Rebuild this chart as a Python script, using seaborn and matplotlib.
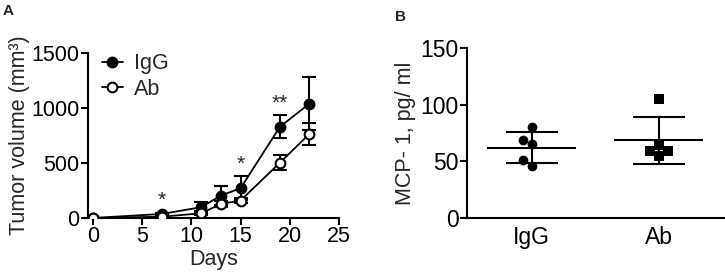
import numpy as np
import pandas as pd
import matplotlib
matplotlib.use('Agg')
import matplotlib.pyplot as plt
import seaborn as sns

# Panel A: tumor growth (mean +/- SEM)
days = [0, 7, 11, 13, 15, 19, 22]
igg_mean = [0, 37, 98, 204, 271, 829, 1040]
igg_sem = [0, 10, 51, 83, 107, 105, 240]
ab_mean = [0, 12, 43, 128, 159, 503, 765]
ab_sem = [0, 8, 20, 25, 25, 70, 97]
sig_days = [7, 15, 19]
sig_labels = ['*', '*', '**']

# Panel B: MCP-1 levels, individual mice
groups = ['IgG', 'Ab']
igg_mcp = [80, 69, 65, 51, 46]
ab_mcp = [105, 59, 55, 59, 64]

sns.set_style('ticks')
plt.rcParams['font.family'] = ['Liberation Sans', 'DejaVu Sans']
plt.rcParams['axes.linewidth'] = 1.5
plt.rcParams['xtick.major.width'] = 1.5
plt.rcParams['ytick.major.width'] = 1.5
plt.rcParams['xtick.major.size'] = 5
plt.rcParams['ytick.major.size'] = 5
plt.rcParams['xtick.color'] = 'black'
plt.rcParams['ytick.color'] = 'black'
plt.rcParams['axes.edgecolor'] = 'black'

fig = plt.figure(figsize=(7.25, 2.76), dpi=100)
axA = fig.add_axes([0.1214, 0.2101, 0.3462, 0.598])
axB = fig.add_axes([0.644, 0.2101, 0.356, 0.616])

# ---- Panel A
growth = pd.DataFrame({'day': days, 'IgG': igg_mean, 'Ab': ab_mean})
sns.lineplot(data=growth, x='day', y='IgG', ax=axA, color='black', lw=1.3,
             marker='o', markersize=7, markerfacecolor='black',
             markeredgecolor='black', markeredgewidth=1.5, label='IgG', zorder=3)
axA.errorbar(days, igg_mean, yerr=igg_sem, fmt='none', ecolor='black',
             elinewidth=1.5, capsize=5, capthick=1.5, zorder=2)
sns.lineplot(data=growth, x='day', y='Ab', ax=axA, color='black', lw=1.3,
             marker='o', markersize=7, markerfacecolor='white',
             markeredgecolor='black', markeredgewidth=1.5, label='Ab', zorder=5)
axA.errorbar(days, ab_mean, yerr=ab_sem, fmt='none', ecolor='black',
             elinewidth=1.5, capsize=5, capthick=1.5, zorder=4)

for d, lab in zip(sig_days, sig_labels):
    i = days.index(d)
    axA.text(d, igg_mean[i] + igg_sem[i] + 110, lab, ha='center', va='center',
             fontsize=15)

axA.set_xlim(-0.5, 25)
axA.set_ylim(0, 1500)
axA.set_xticks([0, 5, 10, 15, 20, 25])
axA.set_yticks([0, 500, 1000, 1500])
axA.tick_params(labelsize=15.5, pad=1)
axA.set_xlabel('Days', fontsize=15.5, labelpad=1)
axA.set_ylabel('Tumor volume (mm³)', fontsize=15.5, labelpad=1)
axA.legend(loc='upper left', bbox_to_anchor=(0.02, 1.05), frameon=False,
           fontsize=15.5, handlelength=1.0, handletextpad=0.5, labelspacing=0.2,
           borderaxespad=0)
sns.despine(ax=axA)
axA.spines['left'].set_position(('data', -0.5))

# ---- Panel B
mcp = pd.DataFrame({'group': ['IgG'] * len(igg_mcp) + ['Ab'] * len(ab_mcp),
                    'value': igg_mcp + ab_mcp})
sns.swarmplot(data=mcp[mcp.group == 'IgG'], x='group', y='value', order=groups,
              ax=axB, color='black', marker='o', size=7)
sns.swarmplot(data=mcp[mcp.group == 'Ab'], x='group', y='value', order=groups,
              ax=axB, color='black', marker='s', size=7)
for i, g in enumerate(groups):
    vals = mcp.loc[mcp.group == g, 'value']
    m, sd = vals.mean(), vals.std()
    axB.hlines(m, i - 0.35, i + 0.35, color='black', lw=1.5, zorder=4)
    axB.errorbar(i, m, yerr=sd, fmt='none', ecolor='black', elinewidth=1.5,
                 capsize=19, capthick=1.5, zorder=4)

axB.set_xlim(-0.51, 1.52)
axB.set_ylim(0, 150)
axB.set_yticks([0, 50, 100, 150])
axB.tick_params(axis='y', labelsize=16.5, pad=1)
axB.tick_params(axis='x', labelsize=16.5, length=0, pad=6)
axB.set_xlabel('')
axB.set_ylabel('MCP- 1, pg/ ml', fontsize=15.5, labelpad=3)
sns.despine(ax=axB)

fig.text(0.004, 0.985, 'A', fontsize=11, fontweight='bold', va='top')
fig.text(0.545, 0.965, 'B', fontsize=11, fontweight='bold', va='top')

fig.savefig('out.png', dpi=100)
